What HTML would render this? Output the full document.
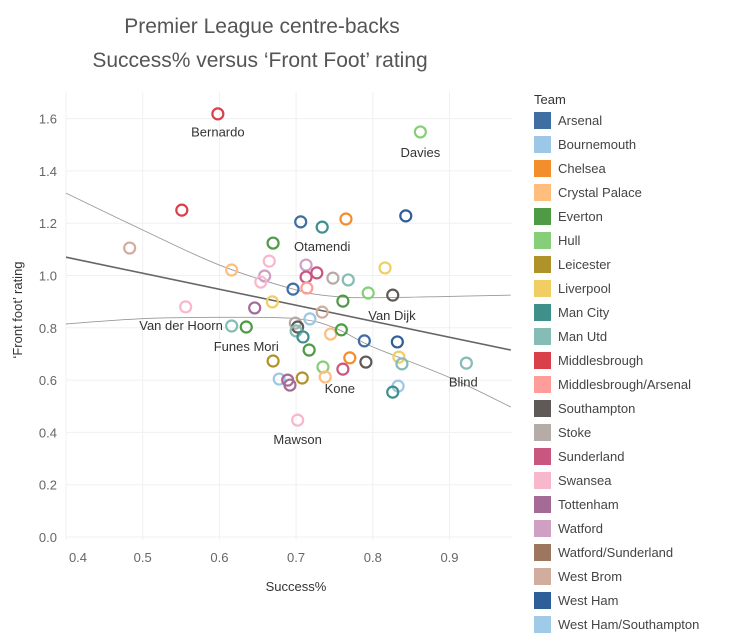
<!DOCTYPE html>
<html><head><meta charset="utf-8"><style>
body{margin:0;background:#fff;font-family:"Liberation Sans",sans-serif;}
svg text{font-family:"Liberation Sans",sans-serif;}
</style></head><body>
<svg id="chart" width="730" height="637" viewBox="0 0 730 637">
<text x="262" y="33" text-anchor="middle" font-size="21" fill="#555">Premier League centre-backs</text>
<text x="260" y="67" text-anchor="middle" font-size="21" fill="#555">Success% versus ‘Front Foot’ rating</text>
<g id="grid"></g><g id="bands"></g><g id="pts"></g><g id="labels"></g>
<text x="296" y="591" text-anchor="middle" font-size="13" fill="#333">Success%</text>
<text transform="translate(22,310) rotate(-90)" text-anchor="middle" font-size="13" fill="#333">‘Front foot’ rating</text>
<text x="534" y="104" font-size="13" fill="#333">Team</text>
<g id="legend"></g>
</svg>
<script>
const xTicks=[0.4,0.5,0.6,0.7,0.8,0.9];
const yTicks=[0.0,0.2,0.4,0.6,0.8,1.0,1.2,1.4,1.6];
const teams=["Arsenal","Bournemouth","Chelsea","Crystal Palace","Everton","Hull","Leicester","Liverpool","Man City","Man Utd","Middlesbrough","Middlesbrough/Arsenal","Southampton","Stoke","Sunderland","Swansea","Tottenham","Watford","Watford/Sunderland","West Brom","West Ham","West Ham/Southampton"];
const teamColors=["#3f6ea3","#9cc7e6","#f28e2b","#ffbe7d","#4e9a45","#86cf78","#b0922a","#f1ce63","#3f8f8a","#86bcb6","#d9404a","#ff9d9a","#5f5a58","#b5aca8","#c9567f","#f8b8cc","#a66a97","#cf9fc4","#9d7660","#d1ad9e","#2f5f98","#a0cbe8"];
const ptTeam=["Middlesbrough","Hull","Middlesbrough","West Brom","Arsenal","Man City","Chelsea","West Ham","Everton","Swansea","Crystal Palace","Watford","Swansea","Watford","Sunderland","Sunderland","Stoke","Man Utd","Liverpool","Arsenal","Middlesbrough/Arsenal","Hull","Southampton","Everton","Swansea","Tottenham","Liverpool","West Brom","Stoke","Southampton","Man Utd","Man City","Bournemouth","Man Utd","Everton","Crystal Palace","Everton","Arsenal","West Ham","Everton","Chelsea","Southampton","Liverpool","Man Utd","Leicester","Hull","Sunderland","Bournemouth","Tottenham","Tottenham","Leicester","Crystal Palace","Bournemouth","Man City","Swansea","Man Utd"];
const ptSuccess=[.598,.862,.551,.483,.706,.734,.765,.843,.670,.665,.616,.659,.654,.713,.713,.727,.748,.768,.816,.696,.714,.794,.826,.761,.556,.646,.669,.734,.699,.702,.700,.709,.718,.616,.635,.745,.759,.789,.832,.717,.770,.791,.834,.838,.670,.735,.761,.678,.689,.692,.708,.738,.833,.826,.702,.922];
const ptRating=[1.618,1.549,1.250,1.105,1.205,1.185,1.216,1.228,1.124,1.055,1.021,.998,.975,1.040,.994,1.010,.990,.983,1.029,.948,.952,.933,.925,.902,.880,.876,.899,.860,.818,.803,.788,.765,.834,.807,.803,.776,.792,.750,.746,.715,.685,.669,.688,.662,.673,.650,.642,.604,.600,.581,.608,.612,.577,.554,.447,.665];
const labelNames=["Bernardo","Davies","Otamendi","Van Dijk","Van der Hoorn","Funes Mori","Kone","Blind","Mawson"];
const labelX=[.598,.862,.734,.825,.55,.635,.757,.918,.702];
const labelY=[1.55,1.473,1.112,.848,.81,.73,.57,.595,.375];
const bandX=[0.4,0.5,0.6,0.7,0.75,0.8,0.9,0.98];
const bandUpper=[1.315,1.174,1.04,0.945,0.92,0.915,0.92,0.925];
const bandLower=[0.815,0.835,0.84,0.835,0.80,0.727,0.61,0.497];
const trendX=[0.4,0.98];
const trendY=[1.07,0.715];

const X=v=>66+(v-0.4)*767, Y=v=>537-v*261.5;
const NS="http://www.w3.org/2000/svg";
function mk(tag,attrs,parent,txt){const e=document.createElementNS(NS,tag);for(const k in attrs)e.setAttribute(k,attrs[k]);if(txt!==undefined)e.textContent=txt;document.getElementById(parent).appendChild(e);return e;}
xTicks.forEach((t,i)=>{
 const g=mk('line',{x1:X(t),x2:X(t),y1:92,y2:540,stroke:'#f0f0f0'},'grid');
 
 
 const l=mk('text',{x:i===0?78:X(t),y:562,'text-anchor':'middle','font-size':13,fill:'#666'},'grid',t.toFixed(1));
 
 
});
yTicks.forEach(t=>{
 const g=mk('line',{x1:66,x2:512,y1:Y(t),y2:Y(t),stroke:'#f0f0f0'},'grid');
 
 
 const l=mk('text',{x:57,y:Y(t)+5,'text-anchor':'end','font-size':13,fill:'#666'},'grid',t.toFixed(1));
 
 
});
function curve(xs,ys){
 const p=xs.map((x,i)=>[X(x),Y(ys[i])]);
 let d='M'+p[0][0]+','+p[0][1];
 for(let i=0;i<p.length-1;i++){
  const p0=p[Math.max(i-1,0)],p1=p[i],p2=p[i+1],p3=p[Math.min(i+2,p.length-1)];
  const c1=[p1[0]+(p2[0]-p0[0])/6,p1[1]+(p2[1]-p0[1])/6];
  const c2=[p2[0]-(p3[0]-p1[0])/6,p2[1]-(p3[1]-p1[1])/6];
  d+=` C${c1[0]},${c1[1]} ${c2[0]},${c2[1]} ${p2[0]},${p2[1]}`;
 }
 return d;
}
const up=mk('path',{d:curve(bandX,bandUpper),fill:'none',stroke:'#999','stroke-width':0.9},'bands');


const lo=mk('path',{d:curve(bandX,bandLower),fill:'none',stroke:'#999','stroke-width':0.9},'bands');


const tr=mk('line',{x1:X(trendX[0]),y1:Y(trendY[0]),x2:X(trendX[1]),y2:Y(trendY[1]),stroke:'#666','stroke-width':1.6},'bands');


ptTeam.forEach((tm,i)=>{
 const c=mk('circle',{cx:X(ptSuccess[i]),cy:Y(ptRating[i]),r:5.5,fill:'none',stroke:teamColors[teams.indexOf(tm)],'stroke-width':2.2},'pts');
 
 
});
labelNames.forEach((n,i)=>{
 const t=mk('text',{x:X(labelX[i]),y:Y(labelY[i])+5,'text-anchor':'middle','font-size':13,fill:'#333'},'labels',n);
 
 
});
teams.forEach((tm,i)=>{
 const r=mk('rect',{x:534,y:112+i*24,width:17,height:17,fill:teamColors[i]},'legend');
 
 
 const t=mk('text',{x:558,y:125+i*24,'font-size':13,fill:'#444'},'legend',tm);
 
 
});
</script>
</body></html>
